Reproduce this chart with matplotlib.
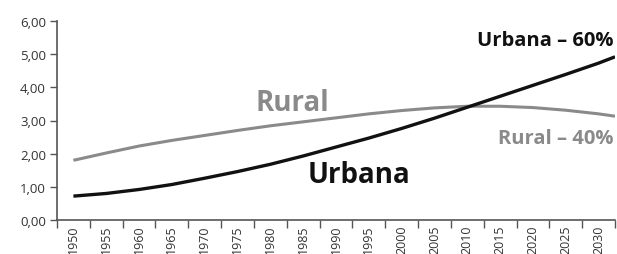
import numpy as np
import matplotlib
matplotlib.use("Agg")
import matplotlib.pyplot as plt

plt.rcParams['font.family'] = ['Open Sans', 'DejaVu Sans']

# anos (o último ponto fecha a linha na borda do eixo)
anos = [1950, 1955, 1960, 1965, 1970, 1975, 1980, 1985, 1990, 1995,
        2000, 2005, 2010, 2015, 2020, 2025, 2030, 2032.5]
urbana = [0.72, 0.80, 0.92, 1.07, 1.26, 1.46, 1.68, 1.93, 2.20, 2.47,
          2.76, 3.07, 3.40, 3.73, 4.06, 4.39, 4.73, 4.92]
rural = [1.80, 2.02, 2.23, 2.40, 2.55, 2.70, 2.84, 2.96, 3.08, 3.20,
         3.30, 3.38, 3.43, 3.43, 3.39, 3.31, 3.20, 3.13]
rotulos_x = [str(a) for a in range(1950, 2031, 5)]
rotulos_y = ["0,00", "1,00", "2,00", "3,00", "4,00", "5,00", "6,00"]

fig = plt.figure(figsize=(6.17, 2.55), dpi=100)
ax = fig.add_axes([57/617, 34/255, 558/617, 199/255])

ax.plot(anos, rural, color='#8a8a8a', lw=2.2, solid_capstyle='butt')
ax.plot(anos, urbana, color='#111111', lw=2.4, solid_capstyle='butt')

ax.set_xlim(1947.5, 2032.5)
ax.set_ylim(0, 6)

# marcas entre categorias, rótulos no centro
ax.set_xticks(np.arange(1947.5, 2033, 5))
ax.set_xticklabels([])
ax.set_xticks(np.arange(1950, 2031, 5), minor=True)
ax.set_xticklabels(rotulos_x, minor=True, rotation=90, fontsize=9, color='#333333')
ax.tick_params(axis='x', which='major', length=6, width=1, color='#555555', direction='out')
ax.tick_params(axis='x', which='minor', length=0, pad=3)

ax.set_yticks(range(7))
ax.set_yticklabels(rotulos_y, fontsize=9.5, color='#333333')
ax.tick_params(axis='y', length=5, width=1, color='#555555', direction='out', pad=3)

for s in ['top', 'right']:
    ax.spines[s].set_visible(False)
for s in ['left', 'bottom']:
    ax.spines[s].set_color('#555555')
    ax.spines[s].set_linewidth(1.2)

ax.text(1977.7, 3.55, "Rural", fontsize=20, fontweight='bold', color='#8a8a8a', ha='left', va='center')
ax.text(1985.7, 1.38, "Urbana", fontsize=20, fontweight='bold', color='#111111', ha='left', va='center')
ax.text(2032.3, 5.42, "Urbana – 60%", fontsize=14.5, fontweight='bold', color='#111111', ha='right', va='center')
ax.text(2032.3, 2.48, "Rural – 40%", fontsize=14.5, fontweight='bold', color='#8a8a8a', ha='right', va='center')

fig.savefig("out.png", dpi=100)
